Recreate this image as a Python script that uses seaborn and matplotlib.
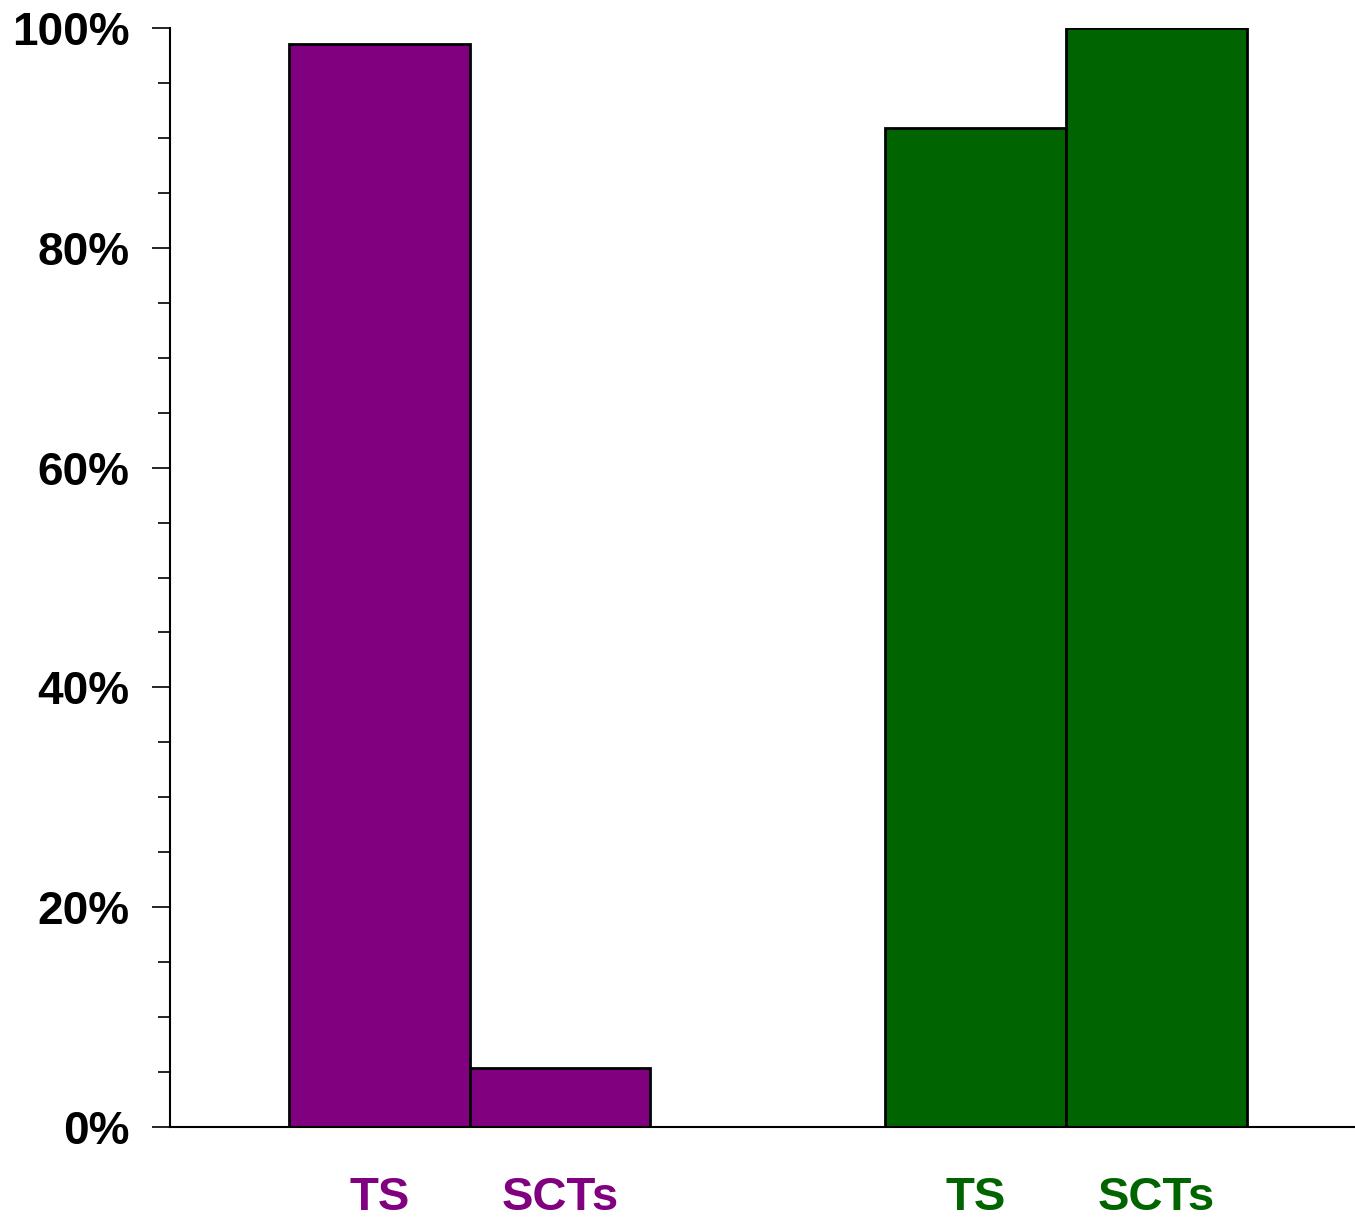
import matplotlib
matplotlib.use("Agg")
import matplotlib.pyplot as plt
import pandas as pd
import seaborn as sns
from matplotlib.ticker import MultipleLocator, FuncFormatter

groups = ["Group 1", "Group 2"]
measures = ["TS", "SCTs"]
group1_values = [98.5, 5.4]
group2_values = [90.9, 100.0]
group_colors = ["#800080", "#006400"]


def main():
    rows = []
    for g, vals in zip(groups, [group1_values, group2_values]):
        for m, v in zip(measures, vals):
            rows.append({"group": g, "measure": m, "value": v})
    df = pd.DataFrame(rows)

    sns.set_style("white")
    plt.rcParams["font.family"] = ["Liberation Sans", "DejaVu Sans"]

    fig = plt.figure(figsize=(13.55, 12.21), dpi=100)
    ax = fig.add_axes([170 / 1355, 1 - 1127 / 1221, 1 - 170 / 1355, (1127 - 28) / 1221])

    sns.barplot(
        data=df, x="group", y="value", hue="measure", order=groups, hue_order=measures,
        width=0.606, dodge=True, gap=0, edgecolor="black", linewidth=2,
        legend=False, ax=ax, errorbar=None,
    )

    # colour every bar by its group, not by its measure
    centers, labels, colors = [], [], []
    for i, container in enumerate(ax.containers):
        for j, bar in enumerate(container):
            bar.set_facecolor(group_colors[j])
            centers.append(bar.get_x() + bar.get_width() / 2)
            labels.append(measures[i])
            colors.append(group_colors[j])

    ax.set_xlim(-0.503, 1.485)
    ax.set_ylim(0, 100)
    ax.set_xlabel("")
    ax.set_ylabel("")

    order = sorted(range(len(centers)), key=lambda k: centers[k])
    ax.set_xticks([centers[k] for k in order])
    ax.set_xticklabels([labels[k] for k in order], fontsize=34, fontweight="bold")
    for tick, k in zip(ax.get_xticklabels(), order):
        tick.set_color(colors[k])
    ax.tick_params(axis="x", length=0, pad=35)

    ax.yaxis.set_major_locator(MultipleLocator(20))
    ax.yaxis.set_minor_locator(MultipleLocator(5))
    ax.yaxis.set_major_formatter(FuncFormatter(lambda v, p: f"{v:.0f}%"))
    ax.tick_params(axis="y", which="major", length=13, width=1.2, color="black",
                   labelsize=33, labelcolor="black", pad=16, left=True)
    ax.tick_params(axis="y", which="minor", length=9, width=1.2, color="black", left=True)
    for t in ax.get_yticklabels():
        t.set_fontweight("bold")

    for side in ["top", "right"]:
        ax.spines[side].set_visible(False)
    for side in ["left", "bottom"]:
        ax.spines[side].set_color("black")
        ax.spines[side].set_linewidth(1.5)

    fig.savefig("out.png", dpi=100)
    plt.close(fig)


if __name__ == "__main__":
    main()
